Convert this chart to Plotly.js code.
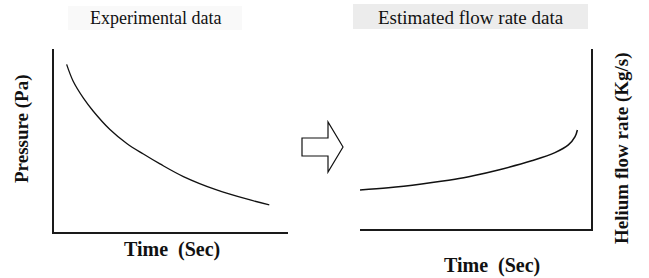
<!DOCTYPE html>
<html>
<head>
<meta charset="utf-8">
<script src="https://cdn.plot.ly/plotly-3.0.1.min.js"></script>
<style>
html,body{margin:0;padding:0;background:#fff;}
#chart{width:649px;height:278px;}
</style>
</head>
<body>
<div id="chart"></div>
<script>
// Left panel: experimental pressure vs time (arbitrary units, axis 0-10)
const timeExp = [0.54, 0.82, 1.25, 1.68, 2.39, 3.11, 3.82, 4.53, 5.53, 6.95, 8.38, 9.20];
const pressure = [9.16, 8.24, 7.33, 6.60, 5.60, 4.84, 4.26, 3.72, 3.03, 2.30, 1.75, 1.48];
// Right panel: estimated helium flow rate vs time (arbitrary units, axis 0-10)
const timeEst = [0.0, 1.23, 2.67, 4.11, 4.95, 5.99, 7.43, 8.44, 9.02, 9.31, 9.41];
const flowRate = [2.17, 2.29, 2.50, 2.76, 2.97, 3.28, 3.79, 4.24, 4.67, 5.13, 5.50];

const titleLeft = "Experimental data";
const titleRight = "Estimated flow rate data";
const xLabel = "Time\u00a0 (Sec)";
const yLabelLeft = "Pressure (Pa)";
const yLabelRight = "Helium flow rate (Kg/s)";

const W = 649, H = 278;
const serif = "Liberation Serif";

const traces = [
  {x: timeExp, y: pressure, xaxis: 'x', yaxis: 'y', mode: 'lines', line: {color: '#111', width: 1.3, shape: 'spline', smoothing: 1}, hoverinfo: 'skip'},
  {x: timeEst, y: flowRate, xaxis: 'x2', yaxis: 'y2', mode: 'lines', line: {color: '#111', width: 1.5, shape: 'spline', smoothing: 1}, hoverinfo: 'skip'}
];

function axis(d0, d1, extra) {
  return Object.assign({domain: [d0, d1], range: [0, 10], showgrid: false, zeroline: false,
    showticklabels: false, ticks: '', showline: true, linecolor: '#1a1a1a', linewidth: 2, fixedrange: true}, extra || {});
}

const layout = {
  width: W, height: H,
  margin: {l: 0, r: 0, t: 0, b: 0},
  paper_bgcolor: '#fff', plot_bgcolor: 'rgba(0,0,0,0)',
  showlegend: false,
  font: {family: serif},
  xaxis: axis(54 / W, 288 / W, {anchor: 'y'}),
  yaxis: axis(1 - 232 / H, 1 - 49 / H, {anchor: 'x'}),
  xaxis2: axis(360 / W, 591 / W, {anchor: 'y2'}),
  yaxis2: axis(1 - 229 / H, 1 - 49 / H, {anchor: 'x2', side: 'right'}),
  xaxis3: {domain: [0, 1], range: [0, W], visible: false, fixedrange: true, anchor: 'y3'},
  yaxis3: {domain: [0, 1], range: [H, 0], visible: false, fixedrange: true, anchor: 'x3'},
  shapes: [
    {type: 'rect', xref: 'x3', yref: 'y3', x0: 68, x1: 242, y0: 6, y1: 30, layer: 'below',
     line: {width: 0}, fillcolor: '#f9f9f9'},
    {type: 'rect', xref: 'x3', yref: 'y3', x0: 353, x1: 588, y0: 4, y1: 29, layer: 'below',
     line: {width: 0}, fillcolor: '#ececec'},
    {type: 'path', xref: 'x3', yref: 'y3',
     path: 'M302,138 L328,138 L328,122 L343,147 L328,172 L328,156 L302,156 Z',
     line: {color: '#111', width: 1.2}, fillcolor: '#fff'}
  ],
  annotations: [
    {text: titleLeft, xref: 'x3', yref: 'y3', x: 155, y: 18, showarrow: false,
     font: {family: serif, size: 18, color: '#111'}},
    {text: titleRight, xref: 'x3', yref: 'y3', x: 471, y: 17, showarrow: false,
     font: {family: serif, size: 19, color: '#111'}},
    {text: xLabel, xref: 'x3', yref: 'y3', x: 172, y: 249, showarrow: false,
     font: {family: serif, size: 20, color: '#111', weight: 'bold'}},
    {text: xLabel, xref: 'x3', yref: 'y3', x: 492, y: 265, showarrow: false,
     font: {family: serif, size: 20, color: '#111', weight: 'bold'}},
    {text: yLabelLeft, xref: 'x3', yref: 'y3', x: 22, y: 129, showarrow: false, textangle: -90,
     font: {family: serif, size: 19, color: '#111', weight: 'bold'}},
    {text: yLabelRight, xref: 'x3', yref: 'y3', x: 622, y: 148, showarrow: false, textangle: -90,
     font: {family: serif, size: 19, color: '#111', weight: 'bold'}}
  ]
};

Plotly.newPlot('chart', traces, layout, {staticPlot: true, displayModeBar: false});
</script>
</body>
</html>
